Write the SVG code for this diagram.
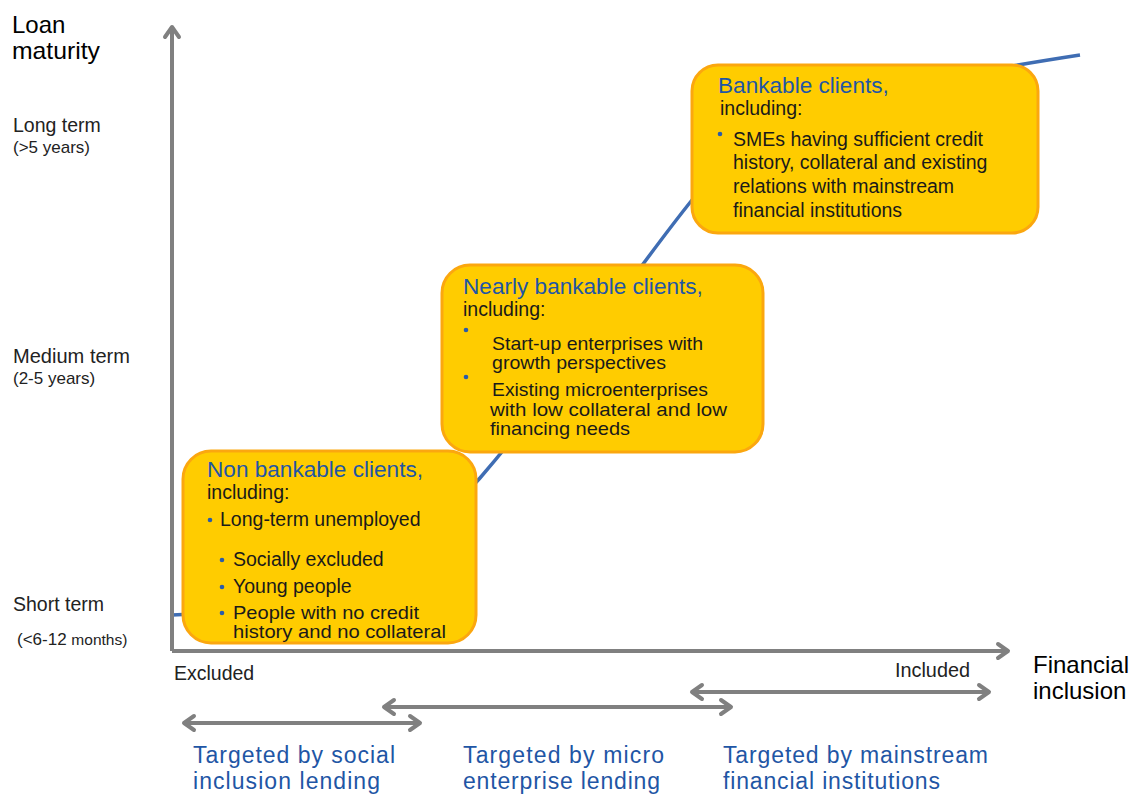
<svg xmlns="http://www.w3.org/2000/svg" width="1136" height="794" viewBox="0 0 1136 794">
<defs>
<style>
text{font-family:"Liberation Sans","DejaVu Sans",sans-serif;}
.ax{stroke:#808080;stroke-width:4;fill:none;}
.box{fill:#FFCC00;stroke:#FBA70F;stroke-width:3;}
.ttl{fill:#1F56A5;font-size:22.6px;}
.body{fill:#1a1a1a;font-size:19.5px;}
.tight{fill:#1a1a1a;font-size:19px;}
.lab{fill:#222;font-size:19.5px;}
.sub{fill:#222;font-size:17px;}
.big{fill:#000;font-size:24px;}
.tgt{fill:#1F56A5;font-size:23px;}
.dot{fill:#2A5CAA;}
</style>
<marker id="ah" viewBox="0 0 20 20" refX="16" refY="10" markerWidth="20" markerHeight="20" markerUnits="userSpaceOnUse" orient="auto-start-reverse">
<path d="M6,3 L16,10 L6,17" fill="none" stroke="#808080" stroke-width="4" stroke-linecap="round" stroke-linejoin="round"/>
</marker>
</defs>
<rect width="1136" height="794" fill="#fff"/>
<g id="connectors">
<path id="curve" d="M172,615 C300,612 400,570 480,478 C560,385 620,290 692,200 C770,105 950,75 1080,55" fill="none" stroke="#3F6DB3" stroke-width="3.5"/>
<path id="y-axis" class="ax" d="M172,651 L172,27" marker-end="url(#ah)"/>
<path id="x-axis" class="ax" d="M172,651 L1008,651" marker-end="url(#ah)"/>
<path id="range-social" class="ax" d="M184,723 L420,723" marker-start="url(#ah)" marker-end="url(#ah)"/>
<path id="range-micro" class="ax" d="M384,707 L731,707" marker-start="url(#ah)" marker-end="url(#ah)"/>
<path id="range-mainstream" class="ax" d="M692,692 L989,692" marker-start="url(#ah)" marker-end="url(#ah)"/>
</g>
<g id="axis-labels">
<text class="big" x="12" y="33">Loan</text>
<text class="big" x="12" y="59" textLength="88" lengthAdjust="spacingAndGlyphs">maturity</text>
<text class="lab" x="13" y="132">Long term</text>
<text class="sub" x="13" y="153">(&gt;5 years)</text>
<text class="lab" x="13" y="363" textLength="117" lengthAdjust="spacingAndGlyphs">Medium term</text>
<text class="sub" x="13" y="384">(2-5 years)</text>
<text class="lab" x="13" y="611">Short term</text>
<text class="sub" x="17" y="645">(&lt;6-12 <tspan font-size="15.5">months)</tspan></text>
<text class="lab" x="174" y="680">Excluded</text>
<text class="lab" x="895" y="677" textLength="75" lengthAdjust="spacingAndGlyphs">Included</text>
<text class="big" x="1033" y="673" font-size="23.5">Financial</text>
<text class="big" x="1033" y="699" font-size="23.5">inclusion</text>
</g>
<g id="node-non-bankable">
<rect class="box" x="183" y="451" width="293" height="192" rx="28"/>
<text class="ttl" x="207" y="477">Non bankable clients,</text>
<text class="body" x="207" y="499">including:</text>
<circle class="dot" cx="210" cy="520" r="2.3"/>
<text class="body" x="220" y="526">Long-term unemployed</text>
<circle class="dot" cx="222" cy="560" r="2.3"/>
<text class="body" x="233" y="566">Socially excluded</text>
<circle class="dot" cx="222" cy="587" r="2.3"/>
<text class="body" x="233" y="593">Young people</text>
<circle class="dot" cx="222" cy="613" r="2.3"/>
<text class="tight" x="233" y="619" textLength="186" lengthAdjust="spacingAndGlyphs">People with no credit</text>
<text class="tight" x="233" y="638" textLength="213" lengthAdjust="spacingAndGlyphs">history and no collateral</text>
</g>
<g id="node-nearly-bankable">
<rect class="box" x="442" y="265" width="321" height="187" rx="28"/>
<text class="ttl" x="463" y="294">Nearly bankable clients,</text>
<text class="body" x="463" y="316">including:</text>
<circle class="dot" cx="466" cy="330" r="2.3"/>
<text class="tight" x="492" y="350" textLength="211" lengthAdjust="spacingAndGlyphs">Start-up enterprises with</text>
<text class="tight" x="492" y="369" textLength="174" lengthAdjust="spacingAndGlyphs">growth perspectives</text>
<circle class="dot" cx="466" cy="377" r="2.3"/>
<text class="tight" x="492" y="396" textLength="216" lengthAdjust="spacingAndGlyphs">Existing microenterprises</text>
<text class="tight" x="490" y="416" textLength="237" lengthAdjust="spacingAndGlyphs">with low collateral and low</text>
<text class="tight" x="490" y="435" textLength="140" lengthAdjust="spacingAndGlyphs">financing needs</text>
</g>
<g id="node-bankable">
<rect class="box" x="692" y="65" width="346" height="168" rx="26"/>
<text class="ttl" x="718" y="93">Bankable clients,</text>
<text class="body" x="720" y="115">including:</text>
<circle class="dot" cx="720" cy="134" r="2.3"/>
<text class="body" x="733" y="146">SMEs having sufficient credit</text>
<text class="body" x="733" y="169">history, collateral and existing</text>
<text class="body" x="733" y="193">relations with mainstream</text>
<text class="body" x="733" y="217">financial institutions</text>
</g>
<g id="target-labels">
<text class="tgt" x="193" y="763" textLength="202" lengthAdjust="spacing">Targeted by social</text>
<text class="tgt" x="193" y="789" textLength="187" lengthAdjust="spacing">inclusion lending</text>
<text class="tgt" x="463" y="763" textLength="201" lengthAdjust="spacing">Targeted by micro</text>
<text class="tgt" x="463" y="789" textLength="197" lengthAdjust="spacing">enterprise lending</text>
<text class="tgt" x="723" y="763" textLength="265" lengthAdjust="spacing">Targeted by mainstream</text>
<text class="tgt" x="723" y="789" textLength="217" lengthAdjust="spacing">financial institutions</text>
</g>
</svg>
